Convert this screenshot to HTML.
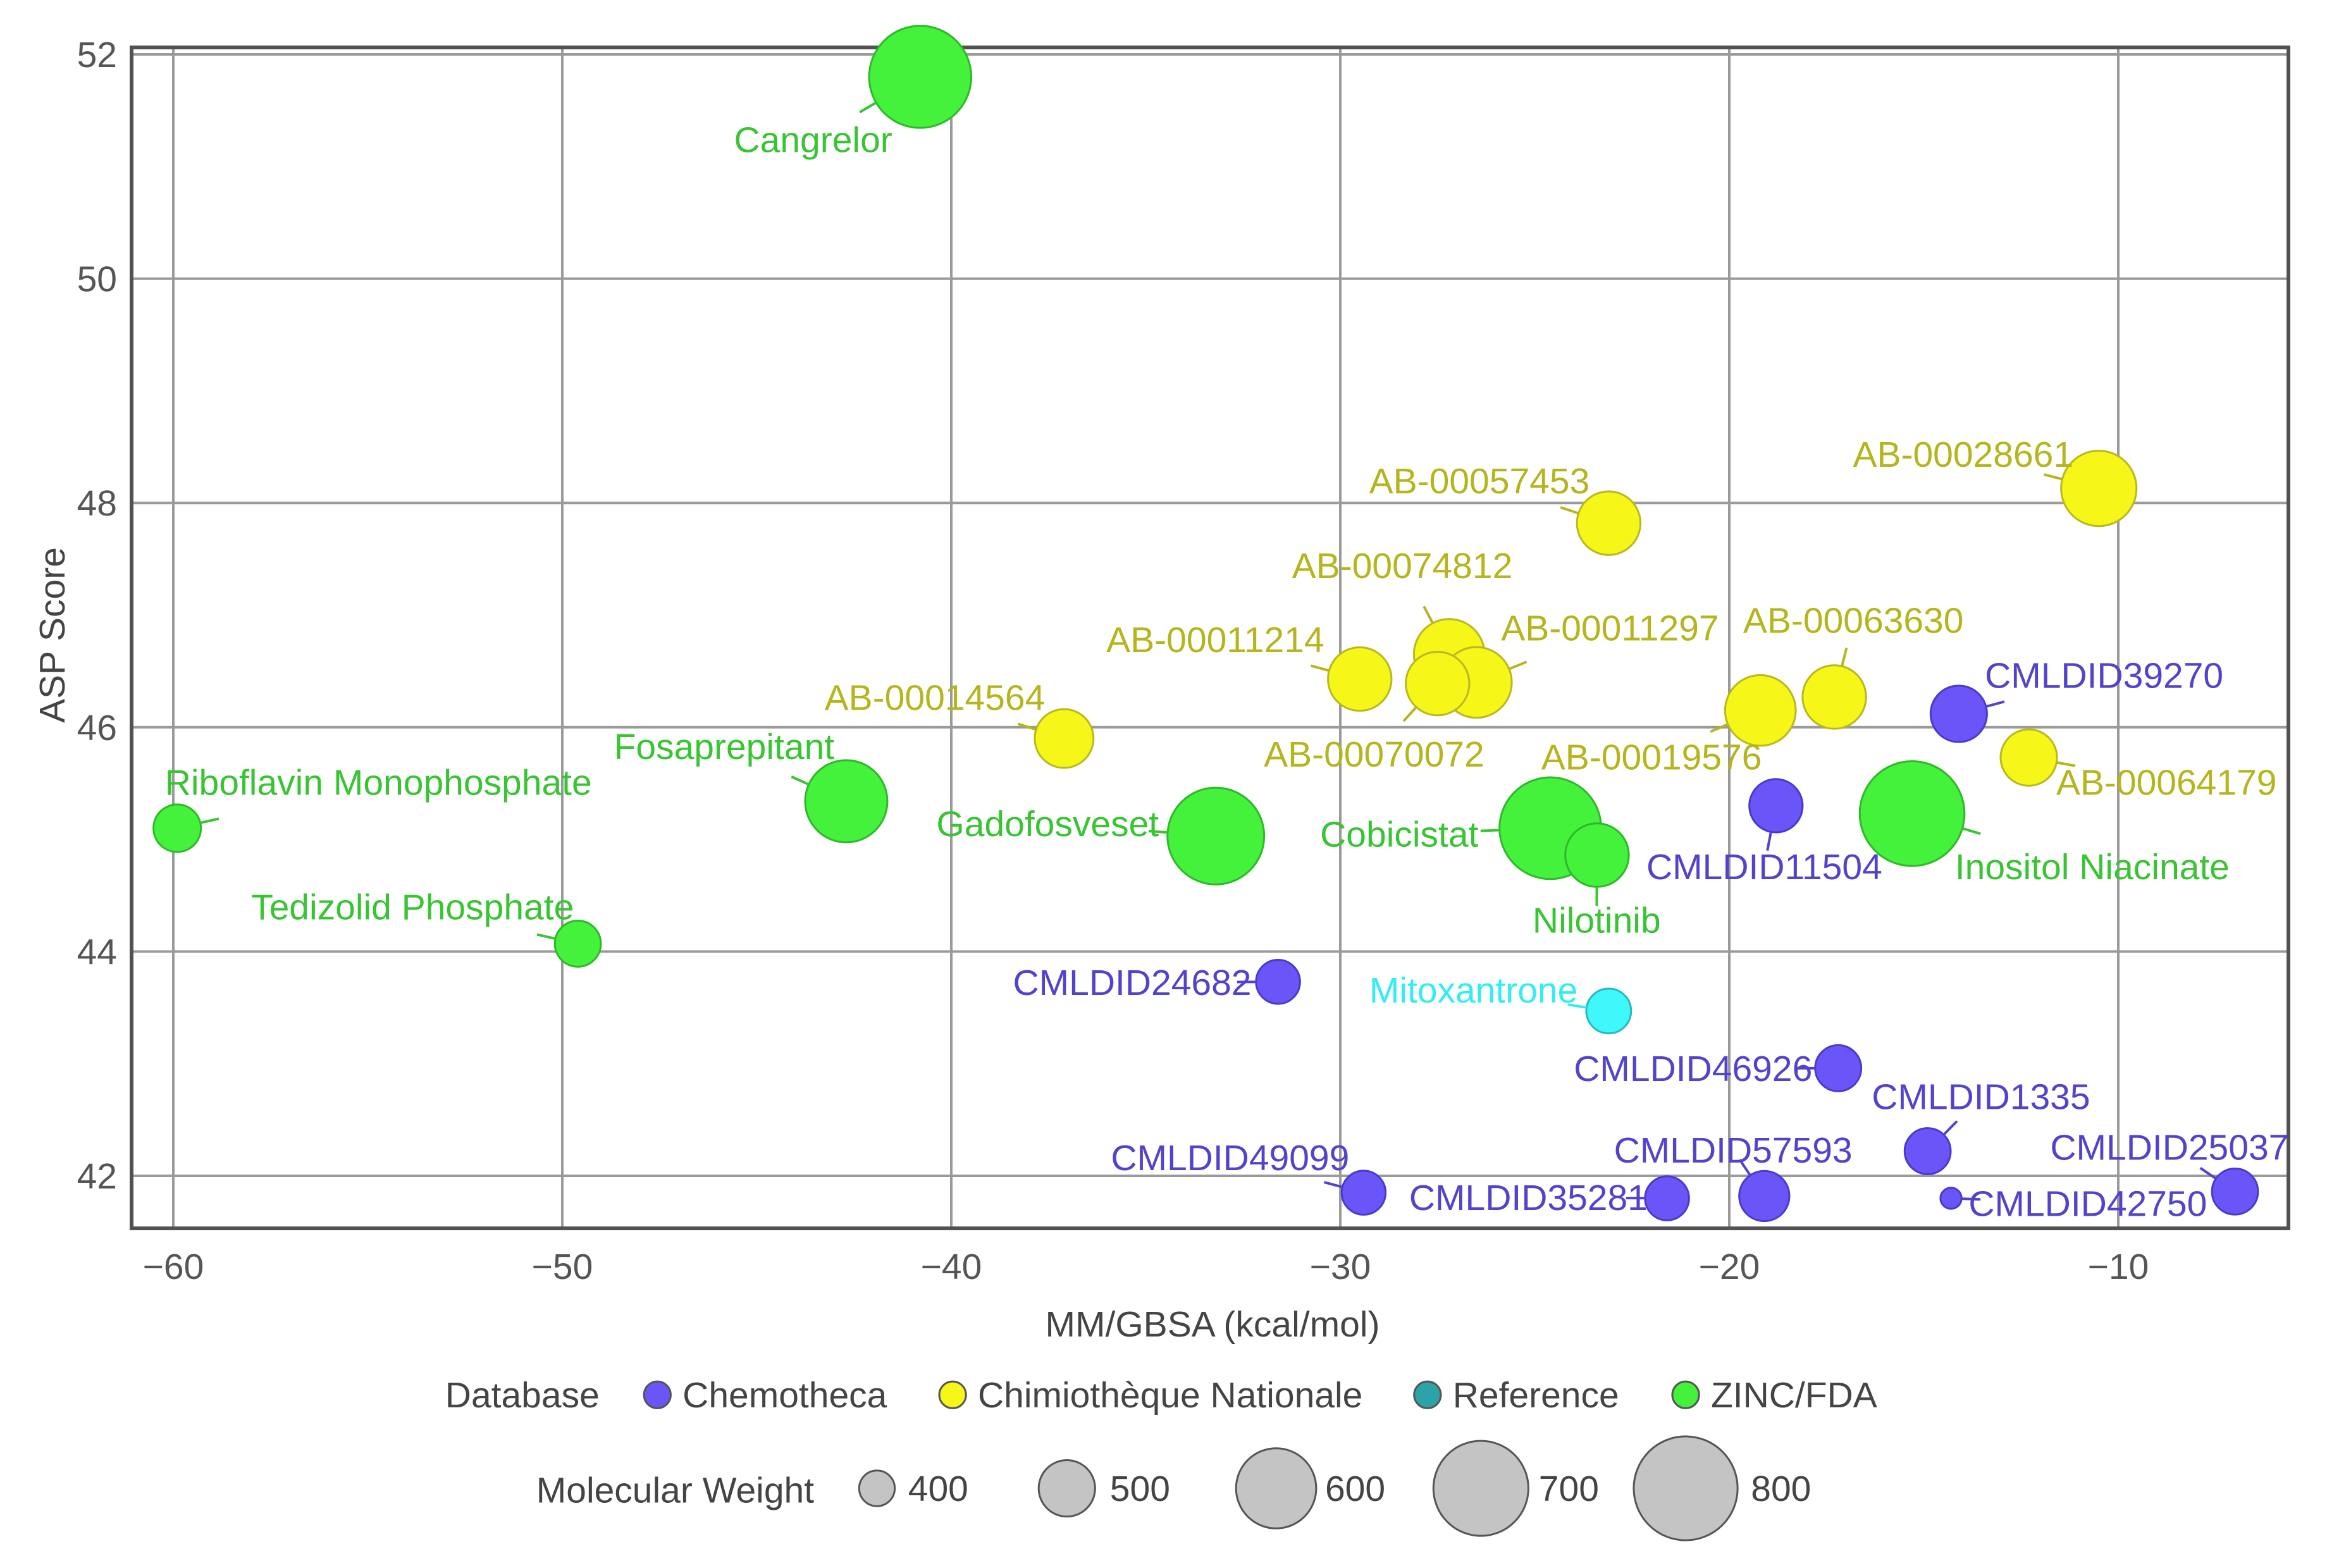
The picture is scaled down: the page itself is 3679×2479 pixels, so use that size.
<!DOCTYPE html>
<html><head><meta charset="utf-8"><style>
html,body{margin:0;padding:0;background:#fff}
svg{display:block;font-family:"Liberation Sans",Arial,sans-serif}
</style></head><body>
<svg id="chart" width="3679" height="2479" viewBox="0 0 3679 2479" xmlns="http://www.w3.org/2000/svg">
<g id="grid"></g>
<g id="ticks"></g>
<rect x="208" y="75" width="3410" height="1867" fill="none" stroke="#525252" stroke-width="6"/>
<g id="marks"></g>
<g id="labels"></g>
<text x="1917" y="2113" font-size="57" fill="#444" text-anchor="middle">MM/GBSA (kcal/mol)</text>
<text x="0" y="0" font-size="57" fill="#444" text-anchor="middle" transform="translate(102,1004) rotate(-90)">ASP Score</text>
<g id="legend"></g>
</svg>
<script>
const names=["Cangrelor","Riboflavin Monophosphate","Tedizolid Phosphate","Fosaprepitant","Gadofosveset","Cobicistat","Nilotinib","Inositol Niacinate","Mitoxantrone","AB-00057453","AB-00028661","AB-00074812","AB-00011297","AB-00070072","AB-00011214","AB-00014564","AB-00063630","AB-00019576","AB-00064179","CMLDID39270","CMLDID11504","CMLDID24682","CMLDID46926","CMLDID1335","CMLDID49099","CMLDID35281","CMLDID57593","CMLDID42750","CMLDID25037"];
const mmgbsa=[-40.8,-59.9,-49.6,-42.7,-33.2,-24.6,-23.4,-15.3,-23.1,-23.1,-10.5,-27.2,-26.5,-27.5,-29.5,-37.1,-17.3,-19.2,-12.3,-14.1,-18.8,-31.6,-17.2,-14.9,-29.4,-21.6,-19.1,-14.3,-7.0];
const asp=[51.8,45.1,44.07,45.34,45.03,45.1,44.86,45.23,43.47,47.82,48.13,46.65,46.4,46.39,46.43,45.9,46.27,46.15,45.73,46.12,45.3,43.73,42.96,42.22,41.85,41.8,41.82,41.8,41.86];
const mw=[780,457,450,614,720,776,530,810,444,530,580,560,560,530,530,510,530,560,500,500,485,440,450,450,440,440,470,330,450];
const db=["ZINC/FDA","ZINC/FDA","ZINC/FDA","ZINC/FDA","ZINC/FDA","ZINC/FDA","ZINC/FDA","ZINC/FDA","Mito","Chimiothèque Nationale","Chimiothèque Nationale","Chimiothèque Nationale","Chimiothèque Nationale","Chimiothèque Nationale","Chimiothèque Nationale","Chimiothèque Nationale","Chimiothèque Nationale","Chimiothèque Nationale","Chimiothèque Nationale","Chemotheca","Chemotheca","Chemotheca","Chemotheca","Chemotheca","Chemotheca","Chemotheca","Chemotheca","Chemotheca","Chemotheca"];
const xTicks=[-60,-50,-40,-30,-20,-10];
const yTicks=[42,44,46,48,50,52];
const sizeTicks=[400,500,600,700,800];
const dbNames=["Chemotheca","Chimiothèque Nationale","Reference","ZINC/FDA"];

const S=2.346;
const FS=57;
const fill={"Chemotheca":"#6a55f8","Chimiothèque Nationale":"#f6f618","Reference":"#2ba3a8","ZINC/FDA":"#44f23c","Mito":"#3ff8fb"};
const stroke={"Chemotheca":"#4a3acc","Chimiothèque Nationale":"#b8b820","Reference":"#1e7e80","ZINC/FDA":"#2fb82a","Mito":"#2ab8c0"};
const txt={"Chemotheca":"#5243cc","Chimiothèque Nationale":"#b5b51e","Reference":"#2aa5a5","ZINC/FDA":"#38c433","Mito":"#33eef0"};
function xs(v){return 274+(v+60)*61.5;}
function ys(v){return 86+(52-v)*177.3;}
const rTick=[12,19,27,32,35].map(r=>r*S);
function rs(m){
  if(m<=sizeTicks[0]) return Math.max(8,rTick[0]+(m-sizeTicks[0])*(rTick[1]-rTick[0])/100);
  for(let i=0;i<sizeTicks.length-1;i++){if(m<=sizeTicks[i+1]){return rTick[i]+(m-sizeTicks[i])*(rTick[i+1]-rTick[i])/(sizeTicks[i+1]-sizeTicks[i]);}}
  return rTick[4]+(m-800)*(rTick[4]-rTick[3])/100;
}
const lab={"Cangrelor":[548,94],"Riboflavin Monophosphate":[255,527],"Tedizolid Phosphate":[278,611],"Fosaprepitant":[488,503],"Gadofosveset":[706,555],"Cobicistat":[943,562],"Nilotinib":[1076,620],"Inositol Niacinate":[1410,584],"Mitoxantrone":[993,667],"AB-00057453":[997,324],"AB-00028661":[1323,306],"AB-00074812":[945,381],"AB-00011297":[1085,423],"AB-00070072":[926,508],"AB-00011214":[819,431],"AB-00014564":[630,470],"AB-00063630":[1249,418],"AB-00019576":[1113,510],"AB-00064179":[1460,527],"CMLDID39270":[1418,455],"CMLDID11504":[1189,584],"CMLDID24682":[763,662],"CMLDID46926":[1141,720],"CMLDID1335":[1335,739],"CMLDID49099":[829,780],"CMLDID35281":[1030,807],"CMLDID57593":[1168,775],"CMLDID42750":[1407,811],"CMLDID25037":[1462,773]};
const NS="http://www.w3.org/2000/svg";
function mk(t,a,p){const e=document.createElementNS(NS,t);for(const k in a)e.setAttribute(k,a[k]);p.appendChild(e);return e;}
const grid=document.getElementById('grid'),ticks=document.getElementById('ticks');
xTicks.forEach(v=>{const l=mk('line',{x1:xs(v),x2:xs(v),y1:75,y2:1942,stroke:'#9a9a9a','stroke-width':4},grid);

const t=mk('text',{x:xs(v),y:2022,'font-size':FS,fill:'#555','text-anchor':'middle'},ticks);t.textContent='\u2212'+Math.abs(v);
});
yTicks.forEach(v=>{const l=mk('line',{x1:208,x2:3618,y1:ys(v),y2:ys(v),stroke:'#9a9a9a','stroke-width':4},grid);

const t=mk('text',{x:185,y:ys(v)+20,'font-size':FS,fill:'#555','text-anchor':'end'},ticks);t.textContent=v;
});
const marks=document.getElementById('marks'),labels=document.getElementById('labels');
const order=names.map((n,i)=>i).sort((a,b)=>mw[b]-mw[a]);
order.forEach(i=>{const cx=xs(mmgbsa[i]),cy=ys(asp[i]),r=rs(mw[i]);
const c=mk('circle',{cx:cx,cy:cy,r:r,fill:fill[db[i]],stroke:stroke[db[i]],'stroke-width':3},marks);

});
names.forEach((n,i)=>{const cx=xs(mmgbsa[i]),cy=ys(asp[i]),r=rs(mw[i]);
const L=lab[n];const lx=L[0]*S,ly=L[1]*S;
const col=txt[db[i]];
const dx=lx-cx,dy=ly-cy,d=Math.hypot(dx,dy)||1;
const ln=mk('line',{x1:cx+dx/d*r,y1:cy+dy/d*r,x2:cx+dx/d*(r+30),y2:cy+dy/d*(r+30),stroke:col,'stroke-width':4},labels);

const t=mk('text',{x:lx,y:ly+20,'font-size':FS,fill:col,'text-anchor':'middle'},labels);t.textContent=n;
});
const lg=document.getElementById('legend');
const t1=mk('text',{x:352*S,y:940*S+20,'font-size':FS,fill:'#444','text-anchor':'middle'},lg);t1.textContent='Database';

const dbX=[443,642,962,1136];
dbNames.forEach((n,k)=>{const c=mk('circle',{cx:dbX[k]*S,cy:940*S,r:9*S,fill:fill[n],stroke:'#555','stroke-width':3},lg);

const t=mk('text',{x:(dbX[k]+17)*S,y:940*S+20,'font-size':FS,fill:'#444'},lg);t.textContent=n;
});
const t2=mk('text',{x:455*S,y:1004*S+20,'font-size':FS,fill:'#444','text-anchor':'middle'},lg);t2.textContent='Molecular Weight';

const sX=[591,719,860,998,1136],tX=[612,748,893,1037,1180];
sizeTicks.forEach((v,k)=>{const c=mk('circle',{cx:sX[k]*S,cy:1003*S,r:rs(v),fill:'#c4c4c4',stroke:'#555','stroke-width':3},lg);

const t=mk('text',{x:tX[k]*S,y:1003*S+20,'font-size':FS,fill:'#444'},lg);t.textContent=v;
});
</script>
</body></html>
